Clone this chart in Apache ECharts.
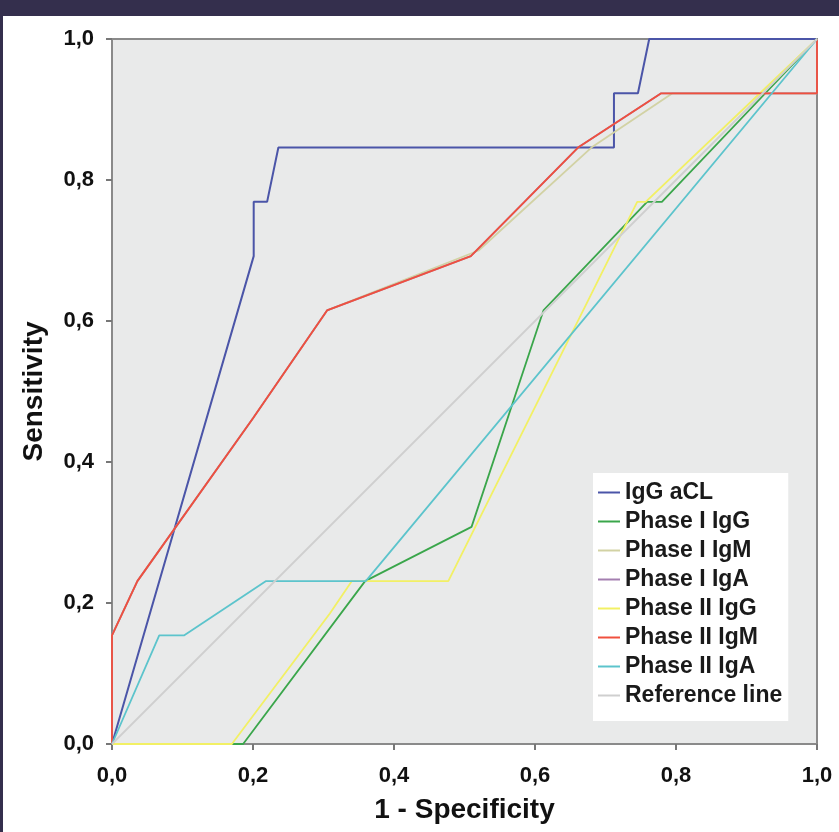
<!DOCTYPE html>
<html lang="en">
<head>
  <meta charset="UTF-8">
  <title>ROC curves</title>
  <script src="https://cdn.jsdelivr.net/npm/echarts@6/dist/echarts.min.js"></script>
  <style>
    html, body {
      margin: 0;
      padding: 0;
      width: 839px;
      height: 832px;
      background: #342f4d;
      overflow: hidden;
    }
    #wrap {
      position: absolute;
      left: 3px;
      top: 16px;
      width: 836px;
      height: 816px;
      background: #ffffff;
    }
  </style>
</head>
<body>

<div id="wrap"></div>

<script>
  // 1 - specificity / sensitivity
  const seriesNames = ["IgG aCL", "Phase I IgG", "Phase I IgM", "Phase I IgA",
                       "Phase II IgG", "Phase II IgM", "Phase II IgA", "Reference line"]

  const iggAclX = [0, 0.201, 0.201, 0.22, 0.236, 0.712, 0.712, 0.746, 0.762, 1]
  const iggAclY = [0, 0.692, 0.769, 0.769, 0.846, 0.846, 0.923, 0.923, 1, 1]

  const ph1IggX = [0, 0.186, 0.359, 0.51, 0.607, 0.612, 0.759, 0.78, 1]
  const ph1IggY = [0, 0, 0.231, 0.308, 0.6, 0.615, 0.769, 0.769, 1]

  const ph1IgmX = [0, 0, 0.036, 0.2, 0.305, 0.52, 0.68, 0.795, 1, 1]
  const ph1IgmY = [0, 0.154, 0.231, 0.462, 0.615, 0.7, 0.846, 0.923, 0.923, 1]

  const ph1IgaX = [0, 0, 0.036, 0.2, 0.305, 0.509, 0.661, 0.779, 1, 1]
  const ph1IgaY = [0, 0.154, 0.231, 0.462, 0.615, 0.692, 0.846, 0.923, 0.923, 1]

  const ph2IggX = [0, 0.17, 0.309, 0.34, 0.477, 0.745, 0.757, 1]
  const ph2IggY = [0, 0, 0.185, 0.231, 0.231, 0.769, 0.769, 1]

  const ph2IgmX = [0, 0, 0.036, 0.2, 0.305, 0.509, 0.661, 0.779, 1, 1]
  const ph2IgmY = [0, 0.154, 0.231, 0.462, 0.615, 0.692, 0.846, 0.923, 0.923, 1]

  const ph2IgaX = [0, 0.067, 0.102, 0.218, 0.36, 1]
  const ph2IgaY = [0, 0.154, 0.154, 0.231, 0.231, 1]

  const refX = [0, 1]
  const refY = [0, 1]

  const colors = ["#4b55a8", "#3aa64b", "#d2d2a4", "#a47fb0",
                  "#f2f064", "#f0503e", "#5cc4cc", "#cfcfcf"]

  const xs = [iggAclX, ph1IggX, ph1IgmX, ph1IgaX, ph2IggX, ph2IgmX, ph2IgaX, refX]
  const ys = [iggAclY, ph1IggY, ph1IgmY, ph1IgaY, ph2IggY, ph2IgmY, ph2IgaY, refY]

  const font = "'Liberation Sans', Arial, sans-serif"
  const fmt = v => v.toFixed(1).replace(".", ",")

  const chart = echarts.init(document.querySelector("#wrap"))

  const axisCommon = {
    type: "value",
    min: 0,
    max: 1,
    interval: 0.2,
    nameLocation: "middle",
    nameTextStyle: { fontSize: 28, fontWeight: "bold", color: "#111", fontFamily: font },
    axisLine: { show: true, lineStyle: { color: "#8a8a8a", width: 2 } },
    axisTick: { show: true, inside: false, length: 6, lineStyle: { color: "#777", width: 2 } },
    splitLine: { show: false },
    axisLabel: { formatter: fmt, fontSize: 22, fontWeight: "bold", color: "#111", fontFamily: font }
  }

  const ops = {
    animation: false,
    color: colors,
    grid: {
      show: true,
      left: 109,
      top: 23,
      width: 705,
      height: 705,
      backgroundColor: "#e9eaea",
      borderColor: "#8a8a8a",
      borderWidth: 2
    },
    xAxis: Object.assign({}, axisCommon, {
      name: "1 - Specificity",
      nameGap: 52,
      axisLabel: Object.assign({}, axisCommon.axisLabel, { margin: 21 })
    }),
    yAxis: Object.assign({}, axisCommon, {
      name: "Sensitivity",
      nameGap: 64,
      axisLabel: Object.assign({}, axisCommon.axisLabel, { margin: 18 })
    }),
    legend: {
      orient: "vertical",
      left: 590,
      top: 457,
      backgroundColor: "#ffffff",
      padding: [8, 6, 14, 5],
      itemGap: 6,
      itemWidth: 22,
      itemHeight: 2,
      icon: "rect",
      textStyle: { fontSize: 23, fontWeight: "bold", color: "#1a1a1a", fontFamily: font },
      data: seriesNames
    },
    series: seriesNames.map((name, i) => ({
      name: name,
      type: "line",
      symbol: "none",
      lineStyle: { color: colors[i], width: i === 0 ? 2 : 1.8 },
      itemStyle: { color: colors[i] },
      data: xs[i].map((x, k) => [x, ys[i][k]])
    }))
  }

  chart.setOption(ops)
</script>
</body>
</html>
